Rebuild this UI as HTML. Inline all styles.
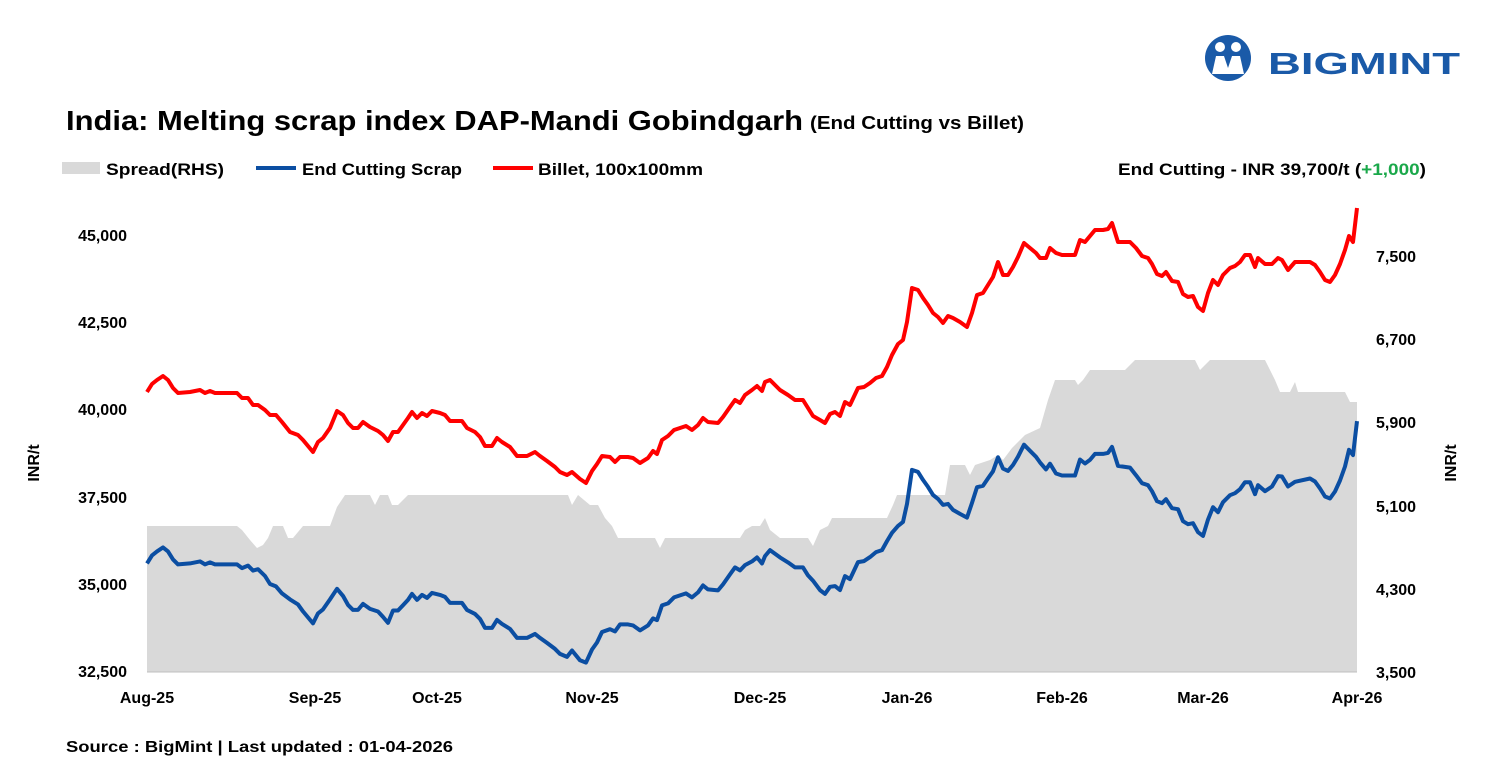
<!DOCTYPE html>
<html><head><meta charset="utf-8"><style>
body{margin:0;background:#fff;}
svg text{font-family:"Liberation Sans",Arial,sans-serif;font-weight:bold;fill:#000;}
</style></head><body>
<svg id="s" width="1490" height="776" xmlns="http://www.w3.org/2000/svg">
<rect width="1490" height="776" fill="#fff"/>
<g transform="translate(1228,58)">
<circle cx="0" cy="0" r="23" fill="#1a5aa8"/>
<circle cx="-8" cy="-11" r="5" fill="#fff"/><circle cx="8" cy="-11" r="5" fill="#fff"/>
<path d="M-16,16 L-12,-2 L-4,-2 L0,10 L4,-2 L12,-2 L16,16 Z" fill="#fff"/>
</g>
<text x="1268" y="74" font-size="31" textLength="192" lengthAdjust="spacingAndGlyphs" style="fill:#1a5aa8">BIGMINT</text>
<text x="66" y="130" font-size="28" textLength="737" lengthAdjust="spacingAndGlyphs">India: Melting scrap index DAP-Mandi Gobindgarh</text>
<text x="810" y="129" font-size="18" textLength="214" lengthAdjust="spacingAndGlyphs">(End Cutting vs Billet)</text>
<rect x="62" y="162" width="38" height="12" fill="#d9d9d9"/>
<text x="106" y="175" font-size="17" textLength="118" lengthAdjust="spacingAndGlyphs">Spread(RHS)</text>
<line x1="256" y1="168" x2="296" y2="168" stroke="#0b4ea2" stroke-width="4"/>
<text x="302" y="175" font-size="17" textLength="160" lengthAdjust="spacingAndGlyphs">End Cutting Scrap</text>
<line x1="493" y1="168" x2="533" y2="168" stroke="#ff0000" stroke-width="4"/>
<text x="538" y="175" font-size="17" textLength="165" lengthAdjust="spacingAndGlyphs">Billet, 100x100mm</text>
<text x="1118" y="175" font-size="17" textLength="308" lengthAdjust="spacingAndGlyphs">End Cutting - INR 39,700/t (<tspan style="fill:#1aa84a">+1,000</tspan>)</text>
<g id="plot"></g>
<line x1="147" y1="672" x2="1357" y2="672" stroke="#bfbfbf" stroke-width="1"/>
<g font-size="16" text-anchor="end">
<text x="127" y="241">45,000</text><text x="127" y="328">42,500</text><text x="127" y="415">40,000</text>
<text x="127" y="503">37,500</text><text x="127" y="590">35,000</text><text x="127" y="677">32,500</text>
</g>
<g font-size="16">
<text x="1376" y="262">7,500</text><text x="1376" y="345">6,700</text><text x="1376" y="428">5,900</text>
<text x="1376" y="512">5,100</text><text x="1376" y="595">4,300</text><text x="1376" y="678">3,500</text>
</g>
<g font-size="16" text-anchor="middle">
<text x="147" y="703">Aug-25</text><text x="315" y="703">Sep-25</text><text x="437" y="703">Oct-25</text>
<text x="592" y="703">Nov-25</text><text x="760" y="703">Dec-25</text><text x="907" y="703">Jan-26</text>
<text x="1062" y="703">Feb-26</text><text x="1203" y="703">Mar-26</text><text x="1357" y="703">Apr-26</text>
</g>
<text font-size="16" transform="translate(39,463) rotate(-90)" text-anchor="middle">INR/t</text>
<text font-size="16" transform="translate(1456,463) rotate(-90)" text-anchor="middle">INR/t</text>
<text x="66" y="752" font-size="16" textLength="387" lengthAdjust="spacingAndGlyphs">Source : BigMint | Last updated : 01-04-2026</text>
</svg>
<script>
var B=[147,392,152,384,157,380,163,376,168,380,173,388,178,393,190,392,200,390,205,393,210,391,215,393,237,393,242,398,248,398,253,405,258,405,265,410,270,415,276,415,282,422,290,432,298,435,303,440,308,446,313,452,318,442,323,438,330,428,337,411,343,415,348,423,353,428,358,428,363,422,370,427,378,431,383,435,388,441,393,432,398,432,403,425,408,418,412,412,417,418,422,413,427,416,432,411,440,413,445,415,450,421,462,421,467,428,475,432,480,437,485,446,492,446,497,438,502,442,510,447,517,456,527,456,535,452,540,456,547,461,555,467,560,472,567,475,572,472,580,479,586,483,592,471,597,464,602,456,610,457,615,462,620,457,628,457,633,458,640,463,648,458,653,451,657,454,662,440,668,436,674,430,680,428,686,426,692,430,698,425,703,418,708,422,718,423,723,417,730,407,735,400,740,403,745,395,752,390,757,386,762,391,765,382,770,380,775,385,780,390,788,395,795,400,803,400,808,408,813,416,820,420,825,423,830,414,835,412,840,416,845,402,850,405,858,388,864,387,870,383,876,378,882,376,887,367,892,355,898,344,903,340,907,322,912,288,918,290,923,298,928,305,933,313,938,317,943,323,948,316,953,318,960,322,967,327,972,313,977,295,983,293,988,285,993,277,998,262,1003,275,1008,275,1013,267,1018,257,1024,243,1030,248,1036,253,1040,258,1046,258,1050,248,1056,253,1062,255,1070,255,1075,255,1080,240,1085,242,1090,236,1095,230,1103,230,1108,229,1112,223,1118,242,1130,242,1136,248,1142,256,1148,258,1152,264,1157,274,1162,276,1166,272,1172,281,1178,282,1183,294,1188,297,1193,296,1198,307,1203,311,1208,293,1213,280,1218,285,1223,275,1230,268,1235,266,1240,262,1245,255,1250,255,1255,267,1258,258,1265,264,1272,264,1278,258,1282,260,1288,270,1295,262,1310,262,1315,265,1320,272,1325,280,1330,282,1335,275,1340,264,1345,250,1349,236,1353,242,1357,208];
var S=[147,526,237,526,242,530,250,540,257,548,263,545,268,538,273,526,283,526,288,538,293,538,298,532,303,526,330,526,337,507,345,495,370,495,375,505,380,495,388,495,392,505,398,505,408,495,568,495,572,505,578,495,590,505,598,505,605,518,612,526,618,538,655,538,660,548,665,538,740,538,745,530,752,526,760,526,765,518,770,530,780,538,808,538,813,546,820,530,828,526,832,518,887,518,893,505,897,495,945,495,950,465,965,465,970,475,975,465,990,460,998,455,1003,460,1012,448,1025,435,1040,428,1048,400,1055,380,1075,380,1078,385,1083,380,1090,370,1125,370,1135,360,1195,360,1200,370,1205,365,1210,360,1265,360,1275,380,1280,392,1290,392,1295,382,1298,392,1345,392,1350,402,1357,402];
function sy(x){for(var i=0;i<S.length-2;i+=2){if(x>=S[i]&&x<=S[i+2]){var t=(x-S[i])/(S[i+2]-S[i]||1);return S[i+1]+t*(S[i+3]-S[i+1]);}}return S[S.length-1];}
var b=[],c=[];
for(var i=0;i<B.length;i+=2){var x=B[i],y=B[i+1];b.push(x+','+y);var sp=3500+(672-sy(x))/0.104;c.push(x+','+(y+sp*0.03496).toFixed(1));}
var area='147,672 ';for(var i=0;i<S.length;i+=2)area+=S[i]+','+S[i+1]+' ';area+='1357,672';
document.getElementById('plot').innerHTML='<polygon points="'+area+'" fill="#d9d9d9"/><polyline points="'+c.join(' ')+'" fill="none" stroke="#0b4ea2" stroke-width="4" stroke-linejoin="round"/><polyline points="'+b.join(' ')+'" fill="none" stroke="#ff0000" stroke-width="4" stroke-linejoin="round"/>';
</script>
</body></html>
